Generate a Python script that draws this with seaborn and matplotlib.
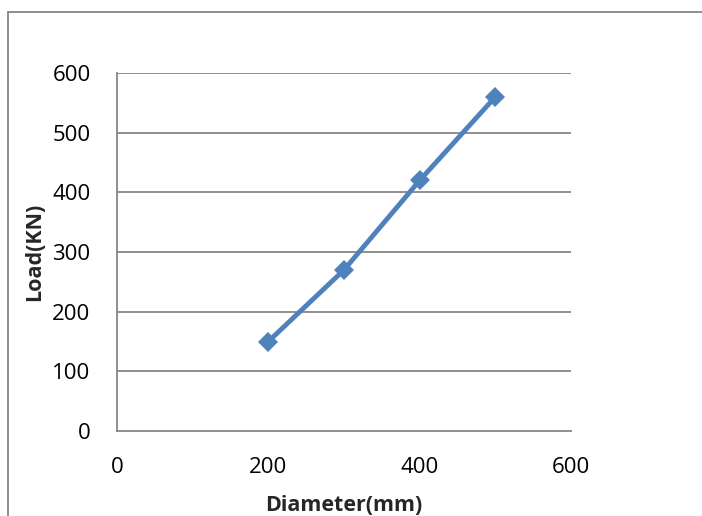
import matplotlib
matplotlib.use("Agg")
import matplotlib.pyplot as plt
import seaborn as sns
import pandas as pd
from matplotlib.lines import Line2D

diameter = [200, 300, 400, 500]
load = [150, 270, 420, 560]
x_ticks = [0, 200, 400, 600]
y_ticks = [0, 100, 200, 300, 400, 500, 600]

sns.set_theme(style="white")
plt.rcParams['font.family'] = ['Open Sans', 'DejaVu Sans']

df = pd.DataFrame({"Diameter(mm)": diameter, "Load(KN)": load})

fig = plt.figure(figsize=(7.02, 5.16), dpi=100)
ax = fig.add_axes([117/702, 1-431/516, (571-117)/702, (431-73)/516])

grid_c = "#868686"
for yv in y_ticks[1:]:
    ax.axhline(yv, color=grid_c, lw=1.3, zorder=0)

sns.lineplot(data=df, x="Diameter(mm)", y="Load(KN)", ax=ax, color="#4F81BD",
             lw=3.5, marker="D", markersize=10, markeredgecolor="#4F81BD",
             markeredgewidth=0, zorder=3)

ax.set_xlim(0, 600)
ax.set_ylim(0, 600)
ax.set_xticks(x_ticks)
ax.set_yticks(y_ticks)
ax.tick_params(axis="both", length=0, labelsize=16, colors="black")
ax.tick_params(axis="x", pad=19)
ax.tick_params(axis="y", length=3, width=1.3, color=grid_c, direction="out", pad=16, labelcolor="black")
for s in ["top", "right"]:
    ax.spines[s].set_visible(False)
for s in ["left", "bottom"]:
    ax.spines[s].set_color(grid_c)
    ax.spines[s].set_linewidth(1.3)
ax.set_xlabel("Diameter(mm)", fontsize=15.5, fontweight="bold", labelpad=12)
ax.set_ylabel("Load(KN)", fontsize=15.5, fontweight="bold", labelpad=5)

# outer chart border
fig.add_artist(Line2D([8/702, 8/702], [0, 1-12/516], transform=fig.transFigure, color=grid_c, lw=1.3))
fig.add_artist(Line2D([8/702, 1], [1-12/516, 1-12/516], transform=fig.transFigure, color=grid_c, lw=1.3))

fig.savefig("out.png", dpi=100, facecolor="white")
